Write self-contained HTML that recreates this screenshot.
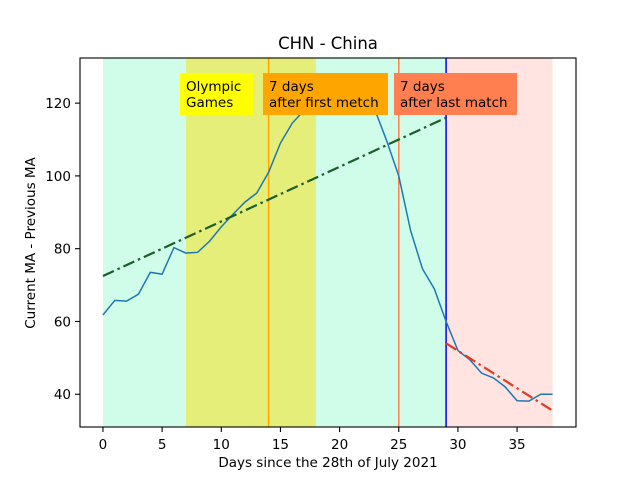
<!DOCTYPE html>
<html><head><meta charset="utf-8"><style>
body{margin:0;background:#fff}
svg text{font-family:"DejaVu Sans","Liberation Sans",sans-serif}
</style></head><body>
<svg id="chart" width="640" height="480" xmlns="http://www.w3.org/2000/svg"></svg>
<script>
const days=[0,1,2,3,4,5,6,7,8,9,10,11,12,13,14,15,16,17,18,19,20,21,22,23,24,25,26,27,28,29,30,31,32,33,34,35,36,37,38];
const values=[61.8,65.8,65.6,67.5,73.5,73,80.3,78.8,79,82,86,89.5,92.8,95.3,101,109,114.5,118,121,125,127,127,124,118,109.5,100,85,74.5,69,60,52,49.5,45.8,44.5,42,38.2,38.1,40,40];
const trendBefore=[[0,72.5],[29,116]];
const trendAfter=[[29,54],[38,35.5]];
const spans=[[0,7,"#d0fdea"],[7,18,"#e6ee7a"],[18,29,"#d0fdea"],[29,38,"#ffe4e1"]];
const vlines=[[14,"#ffa500"],[25,"#ff7f50"],[29,"#0000ff"]];
const xTicks=[0,5,10,15,20,25,30,35];
const yTicks=[40,60,80,100,120];
const L=80,R=576,T=58,B=427,x0=-1.94,x1=39.98,y0=31,y1=132.4;
const X=v=>L+(v-x0)/(x1-x0)*(R-L), Y=v=>B-(v-y0)/(y1-y0)*(B-T);
const svg=document.getElementById('chart');const NS="http://www.w3.org/2000/svg";
function mk(t,a,p){const e=document.createElementNS(NS,t);for(const k in a)e.setAttribute(k,a[k]);(p||svg).appendChild(e);return e;}
const cp=mk('clipPath',{id:'cp'});mk('rect',{x:L,y:T,width:R-L,height:B-T},cp);
const g=mk('g',{'clip-path':'url(#cp)'});
spans.forEach(s=>{const r=mk('rect',{x:X(s[0]),y:T,width:X(s[1])-X(s[0]),height:B-T,fill:s[2]},g);

});
vlines.forEach(v=>{const l=mk('line',{x1:X(v[0]),x2:X(v[0]),y1:T,y2:B,stroke:v[1],'stroke-width':1.5},g);

});
let d=days.map((t,i)=>(i?'L':'M')+X(t)+' '+Y(values[i])).join(' ');
const ln=mk('path',{d:d,fill:'none',stroke:'#1f77b4','stroke-width':1.5},g);


const t1=mk('line',{x1:X(trendBefore[0][0]),y1:Y(trendBefore[0][1]),x2:X(trendBefore[1][0]),y2:Y(trendBefore[1][1]),stroke:'#1a5e2a','stroke-width':2.2,'stroke-dasharray':'12 4 2.5 4'},g);


const t2=mk('line',{x1:X(trendAfter[0][0]),y1:Y(trendAfter[0][1]),x2:X(trendAfter[1][0]),y2:Y(trendAfter[1][1]),stroke:'#e03c28','stroke-width':2.2,'stroke-dasharray':'12 4 2.5 4'},g);


[[180,73,73,"#ffff00",["Olympic","Games"],'olympic-label'],[263,73,125,"#ffa500",["7 days","after first metch"],'first-match-label'],[394,73,123,"#ff7f50",["7 days","after last match"],'last-match-label']].forEach(b=>{
const gg=mk('g',{});
mk('rect',{x:b[0],y:b[1],width:b[2],height:42,fill:b[3]},gg);
b[4].forEach((s,i)=>{const tx=mk('text',{x:b[0]+6,y:b[1]+18+i*16,'font-size':13.5,fill:'#000'},gg);tx.textContent=s;});
});
const fr=mk('rect',{x:L,y:T,width:R-L,height:B-T,fill:'none',stroke:'#000','stroke-width':1.1});

xTicks.forEach(t=>{mk('line',{x1:X(t),x2:X(t),y1:B,y2:B+5,stroke:'#000','stroke-width':1.1});const tx=mk('text',{x:X(t),y:B+22,'font-size':13.5,'text-anchor':'middle'});tx.textContent=t;
});
yTicks.forEach(t=>{mk('line',{x1:L-5,x2:L,y1:Y(t),y2:Y(t),stroke:'#000','stroke-width':1.1});const tx=mk('text',{x:L-9,y:Y(t)+5,'font-size':13.5,'text-anchor':'end'});tx.textContent=t;
});
</script>
<svg width="640" height="480" style="position:absolute;left:0;top:0">
<text x="328" y="49" font-size="16.5" text-anchor="middle" font-family="DejaVu Sans,sans-serif">CHN - China</text>
<text x="328" y="467" font-size="13.5" text-anchor="middle" font-family="DejaVu Sans,sans-serif">Days since the 28th of July 2021</text>
<text x="0" y="0" font-size="13.5" text-anchor="middle" transform="translate(35,243) rotate(-90)" font-family="DejaVu Sans,sans-serif">Current MA - Previous MA</text>
</svg>
</body></html>
